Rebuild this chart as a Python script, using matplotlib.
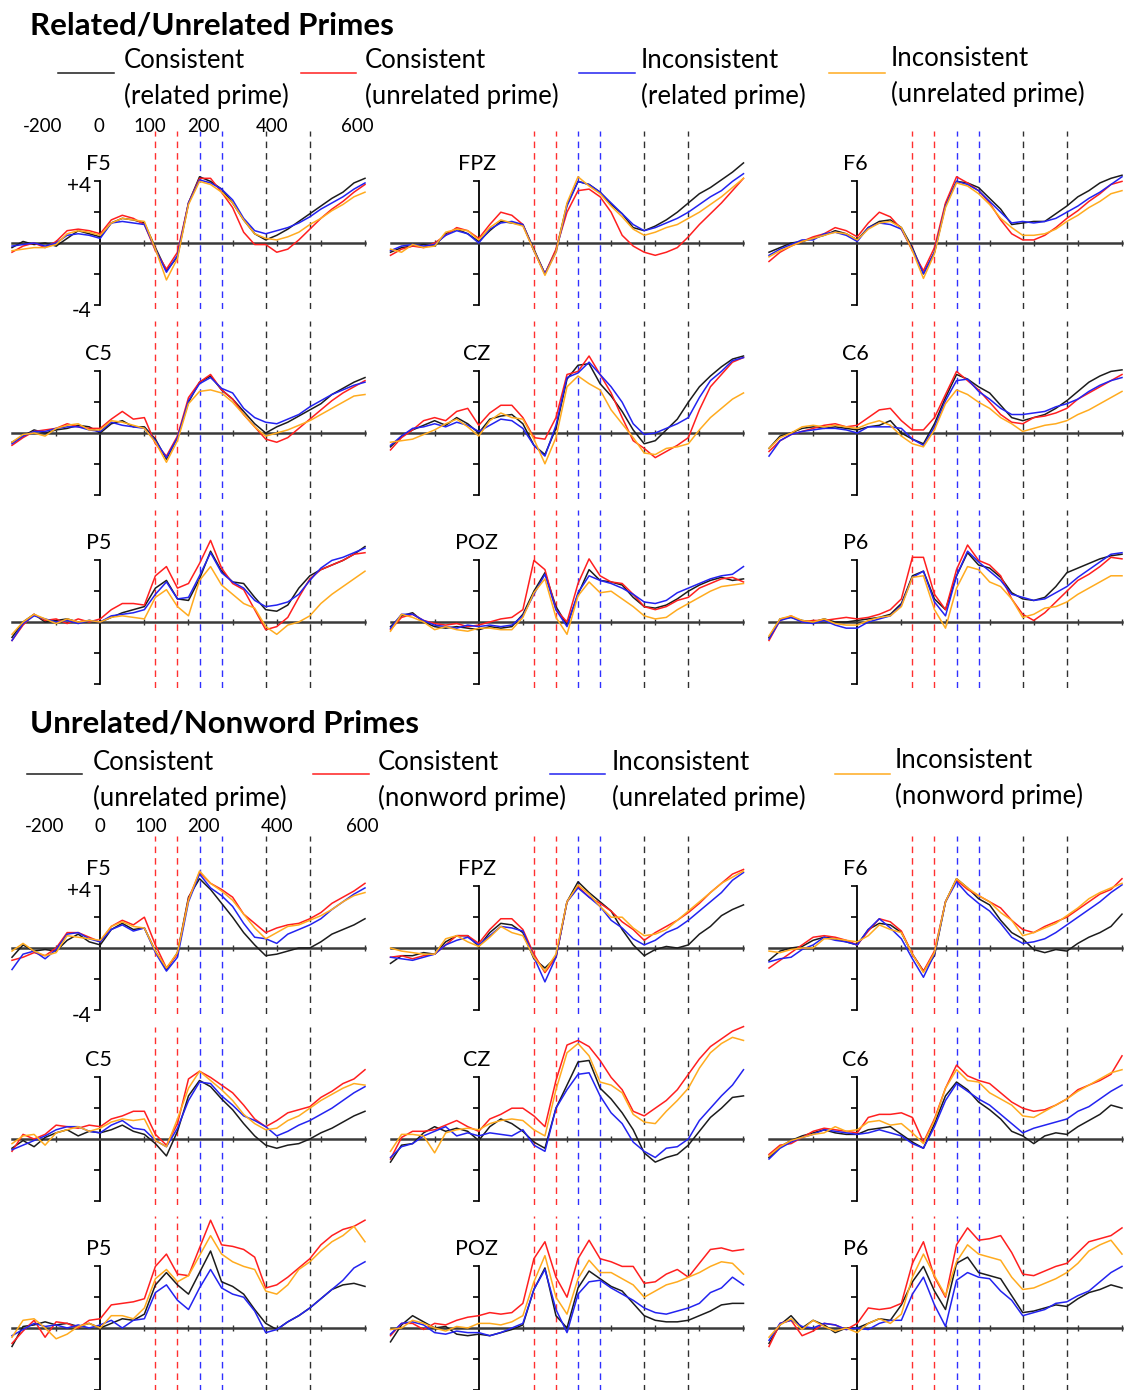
import matplotlib
matplotlib.use("Agg")
import matplotlib.pyplot as plt

plt.rcParams['font.family'] = ['Lato', 'DejaVu Sans']

# sample times (ms)
times = [-200, -175, -150, -125, -100, -75, -50, -25, 0, 25, 50, 75, 100, 125, 150, 175,
         200, 225, 250, 275, 300, 325, 350, 375, 400, 425, 450, 475, 500, 525, 550, 575, 600]

# analysis windows (ms)
red_windows = [125, 175]
blue_windows = [225, 275]
black_windows = [375, 475]

# ---- Related/Unrelated primes (k = con rel, r = con unrel, b = incon rel, o = incon unrel)
ru_f5_k = [-0.3, 0.1, -0.1, 0.0, -0.2, 0.3, 0.8, 0.6, 0.4, 1.3, 1.6, 1.5, 1.3, -0.3, -1.8, -0.9, 2.6, 4.3, 4.0, 3.5, 2.6, 1.5, 0.6, 0.2, 0.5, 0.9, 1.4, 1.9, 2.4, 2.9, 3.3, 3.9, 4.2]
ru_f5_r = [-0.6, -0.2, 0.0, -0.3, 0.1, 0.8, 0.9, 0.8, 0.6, 1.5, 1.8, 1.6, 1.2, -0.5, -1.7, -0.6, 2.6, 4.2, 4.2, 3.3, 2.3, 0.7, -0.1, -0.1, -0.6, -0.4, 0.2, 0.9, 1.6, 2.2, 2.7, 3.3, 3.8]
ru_f5_b = [-0.2, -0.1, 0.0, -0.2, 0.0, 0.5, 0.6, 0.5, 0.3, 1.3, 1.4, 1.3, 1.2, -0.4, -1.9, -0.8, 2.6, 4.1, 3.9, 3.5, 2.8, 1.6, 0.8, 0.6, 0.8, 1.0, 1.3, 1.7, 2.2, 2.6, 3.0, 3.5, 3.9]
ru_f5_o = [-0.5, -0.4, -0.3, -0.3, -0.1, 0.6, 0.8, 0.7, 0.5, 1.3, 1.6, 1.5, 1.4, -0.4, -2.4, -1.0, 2.5, 4.0, 3.8, 3.3, 2.6, 1.5, 0.6, 0.3, 0.2, 0.4, 0.7, 1.2, 1.6, 2.1, 2.5, 3.0, 3.3]

ru_fpz_k = [-0.6, -0.3, -0.2, -0.1, -0.2, 0.6, 0.9, 0.6, 0.1, 0.8, 1.4, 1.3, 1.2, -0.4, -2.0, -0.5, 2.5, 4.0, 3.8, 3.3, 2.5, 1.9, 1.0, 0.8, 1.1, 1.5, 2.0, 2.6, 3.2, 3.6, 4.1, 4.6, 5.2]
ru_fpz_r = [-0.8, -0.4, -0.2, -0.3, 0.0, 0.5, 1.0, 0.8, 0.3, 1.2, 2.0, 1.8, 1.2, -0.5, -2.0, -0.4, 2.0, 3.4, 3.5, 3.0, 2.0, 0.5, -0.2, -0.6, -0.8, -0.6, -0.3, 0.4, 1.2, 1.9, 2.6, 3.4, 4.2]
ru_fpz_b = [-0.5, -0.2, -0.1, -0.2, -0.1, 0.5, 0.8, 0.6, 0.0, 0.9, 1.3, 1.4, 1.2, -0.5, -2.0, -0.6, 2.4, 4.0, 3.8, 3.3, 2.6, 1.9, 1.2, 0.8, 1.0, 1.3, 1.6, 2.0, 2.5, 3.0, 3.4, 4.0, 4.5]
ru_fpz_o = [-0.4, -0.6, -0.1, -0.3, -0.2, 0.7, 0.9, 0.8, 0.2, 1.0, 1.5, 1.3, 1.1, -0.5, -2.1, -0.6, 2.6, 4.3, 3.7, 3.2, 2.4, 1.7, 0.9, 0.5, 0.7, 1.0, 1.2, 1.6, 2.0, 2.5, 3.0, 3.6, 4.2]

ru_f6_k = [-0.6, -0.3, 0.0, 0.1, 0.3, 0.5, 0.8, 0.6, 0.2, 1.0, 1.4, 1.5, 1.0, -0.3, -2.0, -0.6, 2.5, 4.0, 3.9, 3.6, 2.9, 2.2, 1.2, 1.3, 1.4, 1.4, 1.9, 2.4, 3.0, 3.4, 3.9, 4.2, 4.4]
ru_f6_r = [-1.2, -0.6, -0.2, 0.1, 0.4, 0.6, 1.0, 0.8, 0.4, 1.3, 2.0, 1.7, 0.9, -0.5, -1.8, -0.3, 2.6, 4.3, 3.9, 3.4, 2.6, 1.5, 0.6, 0.2, 0.2, 0.5, 1.0, 1.6, 2.1, 2.7, 3.2, 3.8, 4.0]
ru_f6_b = [-0.8, -0.4, -0.1, 0.2, 0.2, 0.6, 0.7, 0.5, 0.1, 1.0, 1.3, 1.2, 0.9, -0.4, -2.0, -0.6, 2.4, 4.0, 3.8, 3.4, 2.7, 2.0, 1.3, 1.4, 1.3, 1.4, 1.6, 2.0, 2.4, 2.9, 3.3, 3.8, 4.3]
ru_f6_o = [-0.9, -0.5, -0.2, 0.1, 0.3, 0.5, 0.7, 0.6, 0.2, 0.9, 1.3, 1.4, 1.0, -0.5, -2.3, -0.7, 2.3, 3.9, 3.7, 3.2, 2.5, 1.6, 1.0, 0.5, 0.5, 0.6, 0.9, 1.4, 1.8, 2.3, 2.7, 3.2, 3.4]

ru_c5_k = [-0.6, -0.2, 0.2, 0.0, 0.2, 0.3, 0.5, 0.4, 0.0, 0.6, 0.8, 0.4, 0.4, -0.4, -1.7, -0.3, 2.0, 3.3, 3.7, 2.8, 2.2, 1.4, 0.6, 0.0, 0.4, 0.7, 1.1, 1.5, 1.9, 2.5, 2.9, 3.3, 3.6]
ru_c5_r = [-0.8, -0.3, 0.1, 0.2, 0.3, 0.6, 0.4, 0.3, 0.3, 0.9, 1.4, 0.9, 1.0, -0.7, -1.5, -0.2, 2.3, 3.3, 3.8, 2.8, 2.2, 1.2, 0.4, -0.4, -0.6, -0.3, 0.3, 0.9, 1.5, 2.1, 2.6, 3.0, 3.4]
ru_c5_b = [-0.7, -0.2, 0.1, 0.1, 0.3, 0.4, 0.4, 0.2, 0.1, 0.7, 0.5, 0.4, 0.3, -0.5, -1.6, -0.3, 2.1, 3.2, 3.6, 2.9, 2.6, 1.6, 1.0, 0.7, 0.6, 0.9, 1.2, 1.7, 2.1, 2.5, 2.8, 3.1, 3.3]
ru_c5_o = [-0.6, -0.1, 0.0, -0.2, 0.3, 0.5, 0.6, 0.2, 0.2, 0.8, 0.7, 0.5, 0.3, -0.6, -1.9, -0.5, 1.9, 2.7, 2.8, 2.6, 2.0, 1.2, 0.4, -0.2, 0.0, 0.2, 0.5, 0.8, 1.2, 1.6, 2.0, 2.4, 2.5]

ru_cz_k = [-0.9, -0.2, 0.2, 0.5, 0.8, 0.5, 1.0, 0.6, 0.0, 0.9, 1.1, 1.2, 0.6, -0.8, -1.4, 0.3, 3.5, 4.4, 4.5, 3.2, 2.4, 1.4, 0.2, -0.7, -0.5, 0.2, 0.9, 2.0, 3.0, 3.7, 4.3, 4.8, 5.0]
ru_cz_r = [-1.1, -0.3, 0.2, 0.8, 1.0, 0.8, 1.4, 1.6, 0.5, 1.3, 1.8, 1.8, 1.0, -0.3, -0.4, 1.0, 3.8, 4.0, 5.0, 3.8, 2.6, 1.0, -0.5, -1.0, -1.6, -1.2, -0.8, -0.3, 1.5, 3.0, 3.8, 4.6, 4.9]
ru_cz_b = [-0.8, -0.2, 0.3, 0.4, 0.6, 0.4, 0.7, 0.5, 0.1, 0.5, 0.9, 0.8, 0.3, -0.8, -1.5, 0.5, 3.6, 3.9, 4.6, 3.8, 3.0, 2.0, 0.6, -0.1, 0.0, 0.3, 0.6, 1.0, 2.3, 3.4, 4.0, 4.7, 4.9]
ru_cz_o = [-0.6, -0.5, -0.4, -0.1, 0.2, 0.6, 0.9, 0.4, -0.2, 0.8, 1.3, 1.0, 0.9, -0.4, -2.0, -0.3, 3.0, 3.7, 3.2, 2.8, 1.5, 0.6, -0.3, -1.3, -1.4, -1.0, -0.9, -0.7, 0.2, 1.0, 1.6, 2.2, 2.6]

ru_c6_k = [-1.0, -0.2, 0.0, 0.3, 0.4, 0.3, 0.4, 0.3, 0.2, 0.4, 0.5, 0.8, 0.0, -0.4, -0.7, 0.6, 2.3, 3.8, 3.5, 3.0, 2.6, 1.8, 1.0, 0.8, 1.0, 1.2, 1.6, 2.1, 2.7, 3.3, 3.7, 4.0, 4.1]
ru_c6_r = [-1.2, -0.5, -0.1, 0.1, 0.3, 0.5, 0.6, 0.4, 0.5, 1.0, 1.5, 1.6, 0.8, 0.2, 0.2, 1.0, 2.5, 4.0, 3.4, 2.8, 2.0, 1.2, 0.7, 0.6, 1.0, 1.1, 1.3, 1.6, 2.2, 2.6, 3.0, 3.4, 3.8]
ru_c6_b = [-1.5, -0.5, -0.1, 0.1, 0.2, 0.3, 0.3, 0.2, 0.0, 0.4, 0.4, 0.4, 0.3, -0.4, -0.8, 0.4, 2.1, 3.4, 3.5, 2.7, 2.2, 1.6, 1.2, 1.2, 1.3, 1.4, 1.7, 1.9, 2.2, 2.7, 3.1, 3.4, 3.6]
ru_c6_o = [-1.0, -0.3, 0.0, 0.4, 0.5, 0.4, 0.5, 0.4, 0.3, 0.6, 0.8, 0.5, -0.2, -0.7, -0.9, 0.2, 1.9, 2.8, 2.5, 2.0, 1.6, 1.0, 0.6, 0.1, 0.3, 0.5, 0.6, 0.8, 1.2, 1.5, 1.9, 2.3, 2.7]

ru_p5_k = [-1.0, 0.0, 0.5, 0.0, 0.1, 0.2, 0.0, 0.1, 0.0, 0.3, 0.6, 0.8, 1.0, 2.2, 2.7, 1.5, 1.4, 2.8, 4.6, 3.3, 2.6, 2.5, 1.6, 0.8, 0.7, 1.1, 2.2, 3.0, 3.4, 3.7, 4.0, 4.4, 4.9]
ru_p5_r = [-1.2, -0.2, 0.5, 0.1, 0.2, -0.1, 0.2, 0.0, 0.2, 0.8, 1.2, 1.2, 1.1, 3.0, 3.6, 2.2, 2.5, 3.8, 5.3, 3.5, 2.5, 2.1, 0.8, -0.5, -0.3, 0.3, 1.6, 2.8, 3.4, 3.7, 4.0, 4.4, 4.5]
ru_p5_b = [-1.2, -0.1, 0.4, 0.2, 0.0, 0.1, -0.1, 0.1, 0.0, 0.4, 0.5, 0.6, 0.8, 1.8, 2.6, 1.5, 1.6, 3.0, 4.5, 3.2, 2.6, 2.2, 1.4, 1.0, 1.1, 1.3, 1.8, 2.7, 3.5, 4.0, 4.2, 4.5, 4.8]
ru_p5_o = [-0.8, 0.0, 0.5, 0.2, -0.1, 0.2, 0.0, 0.1, 0.0, 0.3, 0.4, 0.3, 0.2, 1.6, 2.1, 1.0, 0.4, 2.7, 3.6, 2.4, 1.8, 1.2, 0.9, -0.3, -0.8, -0.2, 0.0, 0.4, 1.2, 1.8, 2.3, 2.8, 3.3]

ru_poz_k = [-0.3, 0.4, 0.6, 0.0, -0.3, -0.4, -0.3, -0.4, -0.5, -0.3, -0.4, -0.3, 0.5, 2.0, 3.2, 1.0, -0.2, 1.8, 3.4, 2.7, 2.6, 2.4, 1.6, 1.0, 0.9, 1.1, 1.5, 2.0, 2.4, 2.7, 2.9, 2.7, 2.8]
ru_poz_r = [-0.5, 0.3, 0.5, 0.1, -0.1, -0.2, -0.1, -0.3, -0.2, 0.0, 0.2, 0.3, 0.8, 4.0, 3.4, 0.8, 0.0, 2.5, 4.1, 3.0, 2.6, 2.5, 1.8, 1.0, 0.8, 1.0, 1.4, 1.6, 2.2, 2.5, 2.8, 2.9, 2.6]
ru_poz_b = [-0.4, 0.5, 0.5, 0.1, -0.2, -0.3, -0.4, -0.2, -0.3, -0.2, -0.3, -0.2, 0.4, 1.8, 3.1, 0.8, -0.3, 1.9, 3.0, 2.7, 2.5, 2.2, 1.8, 1.3, 1.2, 1.4, 1.9, 2.2, 2.5, 2.8, 3.0, 3.1, 3.6]
ru_poz_o = [-0.6, 0.5, 0.3, 0.0, -0.5, -0.3, -0.5, -0.6, -0.4, -0.4, -0.5, -0.5, 0.3, 1.9, 2.8, 0.3, -0.8, 1.7, 2.6, 1.9, 2.0, 1.5, 1.0, 0.4, 0.2, 0.3, 0.8, 1.2, 1.6, 2.0, 2.3, 2.4, 2.5]

ru_p6_k = [-1.0, 0.2, 0.3, 0.1, 0.0, 0.2, 0.0, 0.0, 0.1, 0.2, 0.3, 0.5, 1.2, 3.0, 3.3, 1.5, 0.8, 3.0, 4.5, 3.7, 3.5, 2.9, 1.9, 1.5, 1.4, 1.6, 2.3, 3.2, 3.5, 3.8, 4.1, 4.3, 4.4]
ru_p6_r = [-1.2, 0.1, 0.4, 0.0, 0.1, 0.1, 0.2, 0.3, 0.2, 0.3, 0.5, 0.8, 1.5, 4.2, 4.2, 1.8, 0.8, 3.4, 5.0, 4.0, 3.7, 3.0, 1.5, 0.5, 0.1, 0.6, 1.3, 2.0, 2.7, 3.1, 3.6, 4.2, 4.1]
ru_p6_b = [-1.1, 0.1, 0.3, 0.0, -0.1, 0.1, -0.2, -0.4, -0.4, 0.0, 0.2, 0.4, 1.1, 2.9, 3.3, 1.3, 0.4, 3.0, 4.6, 3.9, 3.3, 2.7, 1.8, 1.6, 1.4, 1.5, 1.9, 2.3, 2.9, 3.4, 3.9, 4.4, 4.5]
ru_p6_o = [-0.9, 0.2, 0.4, 0.1, 0.0, 0.2, -0.1, -0.2, -0.2, 0.1, 0.3, 0.4, 1.0, 2.9, 3.0, 0.8, -0.4, 2.2, 3.6, 3.4, 2.6, 2.3, 1.5, 0.3, 0.5, 0.9, 1.0, 1.3, 1.8, 2.2, 2.6, 3.0, 3.0]

# ---- Unrelated/Nonword primes (k = con unrel, r = con nonword, b = incon unrel, o = incon nonword)
un_f5_k = [-0.6, 0.2, -0.2, -0.1, -0.2, 0.5, 0.9, 0.4, 0.2, 1.2, 1.6, 1.2, 1.3, -0.2, -1.4, -0.3, 3.3, 4.5, 3.8, 2.9, 2.0, 1.0, 0.2, -0.5, -0.4, -0.2, 0.0, 0.0, 0.4, 0.9, 1.2, 1.5, 1.9]
un_f5_r = [-0.8, -0.6, -0.3, -0.5, 0.0, 1.0, 1.0, 0.7, 0.4, 1.4, 1.8, 1.5, 2.0, 0.2, -1.3, -0.4, 3.2, 4.9, 4.2, 3.8, 3.3, 2.2, 1.6, 1.0, 1.3, 1.5, 1.6, 1.9, 2.3, 2.9, 3.3, 3.7, 4.2]
un_f5_b = [-1.4, -0.4, -0.2, -0.7, -0.1, 0.9, 1.0, 0.6, 0.4, 1.2, 1.5, 1.1, 1.3, -0.3, -1.5, -0.6, 3.0, 4.8, 3.9, 3.4, 2.7, 1.6, 0.7, 0.6, 0.3, 0.9, 1.2, 1.5, 1.9, 2.5, 3.0, 3.5, 3.9]
un_f5_o = [-0.2, 0.3, -0.2, -0.5, -0.3, 0.8, 0.7, 0.6, 0.5, 1.4, 1.7, 1.4, 1.3, -0.2, -1.3, -0.3, 3.1, 5.0, 4.2, 3.7, 3.1, 2.2, 1.3, 0.6, 1.0, 1.4, 1.5, 1.8, 2.1, 2.5, 3.0, 3.4, 3.6]

un_fpz_k = [-1.0, -0.5, -0.5, -0.3, -0.4, 0.4, 0.8, 0.8, 0.1, 1.0, 1.6, 1.5, 1.0, -0.7, -1.3, -0.6, 3.0, 4.3, 3.6, 3.0, 2.4, 1.2, 0.2, -0.5, -0.1, 0.1, 0.0, 0.2, 0.9, 1.4, 2.1, 2.5, 2.8]
un_fpz_r = [-0.6, -0.5, -0.7, -0.5, -0.4, 0.2, 0.8, 0.8, 0.3, 1.2, 1.9, 1.9, 1.2, -0.4, -1.6, -0.6, 3.0, 4.0, 3.3, 2.9, 2.4, 1.7, 1.2, 0.5, 1.0, 1.4, 1.8, 2.3, 2.9, 3.6, 4.2, 4.8, 5.1]
un_fpz_b = [-0.6, -0.7, -0.8, -0.6, -0.4, 0.2, 0.5, 0.7, 0.2, 0.8, 1.4, 1.3, 1.1, -0.6, -2.2, -0.6, 3.0, 3.9, 3.3, 2.7, 1.8, 1.3, 0.6, 0.2, 0.5, 1.0, 1.3, 1.8, 2.4, 3.0, 3.6, 4.4, 4.9]
un_fpz_o = [0.0, -0.2, -0.3, -0.4, -0.4, 0.6, 0.8, 0.4, 0.1, 0.7, 1.4, 1.0, 0.8, -0.6, -1.5, -0.4, 3.0, 4.1, 3.5, 2.7, 2.0, 2.0, 1.3, 0.8, 0.9, 1.2, 1.8, 2.4, 3.0, 3.6, 4.2, 4.6, 5.0]

un_f6_k = [-0.8, -0.2, 0.0, 0.1, 0.5, 0.7, 0.6, 0.4, 0.2, 1.2, 1.6, 1.5, 1.0, -0.4, -1.5, -0.5, 3.0, 4.5, 3.9, 3.2, 2.8, 1.8, 1.0, 0.6, -0.1, -0.3, -0.1, -0.2, 0.3, 0.7, 1.0, 1.4, 2.2]
un_f6_r = [-1.3, -0.8, -0.3, 0.2, 0.7, 0.8, 0.7, 0.5, 0.2, 1.1, 1.9, 1.7, 1.1, -0.4, -1.5, -0.2, 3.0, 4.4, 3.8, 3.4, 3.0, 2.6, 1.8, 1.2, 1.0, 1.4, 1.7, 2.0, 2.5, 3.0, 3.5, 3.8, 4.5]
un_f6_b = [-0.9, -0.7, -0.6, -0.1, 0.2, 0.7, 0.5, 0.4, 0.2, 1.2, 1.9, 1.3, 0.6, -0.7, -1.9, -0.4, 3.0, 4.3, 3.5, 2.9, 2.4, 1.6, 0.7, 0.3, 0.4, 0.6, 1.0, 1.5, 2.0, 2.5, 3.0, 3.6, 4.1]
un_f6_o = [-0.2, -0.3, -0.1, 0.0, 0.0, 0.6, 0.6, 0.5, 0.4, 0.8, 1.5, 1.2, 1.0, -0.4, -1.6, -0.3, 3.0, 4.5, 3.9, 3.4, 3.0, 2.3, 1.8, 0.8, 1.0, 1.3, 1.6, 2.1, 2.6, 3.2, 3.6, 3.9, 4.2]

un_c5_k = [-0.6, -0.1, -0.5, 0.1, 0.4, 0.6, 0.2, 0.5, 0.4, 0.6, 0.9, 0.5, 0.3, -0.3, -1.1, 0.5, 2.8, 3.8, 3.4, 2.6, 1.9, 1.0, 0.2, -0.4, -0.6, -0.4, -0.3, 0.0, 0.4, 0.7, 1.1, 1.5, 1.8]
un_c5_r = [-0.8, 0.3, 0.0, 0.3, 0.9, 0.8, 0.7, 0.9, 0.8, 1.3, 1.5, 1.8, 1.8, 0.3, -0.4, 1.0, 3.9, 4.4, 4.0, 3.5, 3.0, 2.2, 1.3, 0.8, 1.2, 1.7, 1.9, 2.1, 2.7, 3.1, 3.6, 3.9, 4.5]
un_c5_b = [-0.7, -0.4, -0.1, 0.2, 0.6, 0.8, 0.8, 0.5, 0.4, 0.9, 1.2, 0.7, 0.6, -0.1, -0.5, 0.7, 2.5, 3.7, 3.6, 2.8, 2.2, 1.5, 1.2, 0.8, 0.2, 0.5, 0.9, 1.2, 1.6, 2.0, 2.5, 3.0, 3.4]
un_c5_o = [-0.3, 0.2, 0.3, -0.4, 0.4, 0.6, 0.8, 0.5, 0.7, 1.1, 1.3, 1.2, 1.3, -0.1, -0.5, 1.3, 3.3, 4.4, 3.8, 3.2, 2.5, 1.6, 1.0, 0.6, 0.7, 1.2, 1.5, 2.0, 2.5, 2.9, 3.3, 3.6, 3.5]

un_cz_k = [-1.5, -0.4, -0.3, 0.4, 0.8, 0.5, 0.7, 0.5, -0.1, 0.8, 1.3, 1.0, 0.5, -0.2, -0.6, 2.0, 3.5, 5.0, 5.1, 3.3, 2.6, 1.7, 0.6, -0.9, -1.5, -1.2, -1.0, -0.4, 0.5, 1.4, 2.0, 2.7, 2.8]
un_cz_r = [-1.3, 0.1, 0.5, 0.5, 0.6, 0.9, 1.2, 0.8, 0.5, 1.3, 1.6, 2.0, 2.0, 1.5, 0.8, 3.8, 6.1, 6.4, 6.0, 5.1, 4.0, 3.2, 1.8, 1.5, 2.0, 2.5, 3.2, 4.2, 5.2, 6.0, 6.5, 7.0, 7.3]
un_cz_b = [-1.2, -0.5, -0.3, 0.2, 0.5, 0.8, 0.2, 0.4, 0.2, 0.4, 0.3, 0.2, 0.6, -0.4, -0.8, 2.0, 3.2, 4.2, 4.3, 2.8, 1.7, 1.0, -0.2, -0.8, -1.2, -0.6, -0.5, 0.0, 1.2, 2.0, 2.8, 3.5, 4.5]
un_cz_o = [-0.8, 0.3, 0.3, 0.2, -0.9, 0.4, 0.6, 0.7, 0.6, 1.0, 1.2, 1.3, 1.2, 0.6, 0.2, 3.2, 5.6, 6.2, 5.4, 3.7, 3.5, 3.0, 1.6, 1.1, 1.0, 1.8, 2.5, 3.3, 4.6, 5.6, 6.2, 6.6, 6.4]

un_c6_k = [-1.2, -0.5, -0.1, 0.2, 0.4, 0.6, 0.4, 0.3, 0.3, 0.6, 0.7, 0.8, 0.3, -0.2, -0.6, 1.0, 2.8, 3.7, 3.2, 2.4, 1.9, 1.3, 0.5, 0.2, -0.3, 0.2, 0.4, 0.3, 0.8, 1.2, 1.6, 2.2, 2.0]
un_c6_r = [-1.0, -0.4, -0.3, 0.1, 0.5, 0.7, 0.6, 0.5, 0.4, 1.4, 1.6, 1.6, 1.7, 1.4, -0.2, 1.3, 3.3, 4.8, 4.1, 3.8, 3.6, 3.0, 2.4, 2.0, 1.8, 1.9, 2.2, 2.6, 3.2, 3.5, 3.8, 4.2, 5.4]
un_c6_b = [-1.3, -0.6, -0.2, 0.1, 0.3, 0.6, 0.5, 0.4, 0.3, 0.4, 0.6, 0.4, 0.2, -0.3, -0.6, 0.8, 2.5, 3.6, 3.1, 2.6, 2.2, 1.6, 1.0, 0.4, 0.7, 0.9, 1.1, 1.3, 1.8, 2.1, 2.6, 3.1, 3.5]
un_c6_o = [-1.1, -0.5, -0.1, 0.1, 0.3, 0.4, 0.8, 0.5, 0.6, 1.1, 1.2, 0.9, 1.0, 0.4, -0.3, 1.2, 3.3, 4.5, 3.8, 3.7, 3.0, 2.6, 2.2, 1.5, 1.4, 1.8, 2.2, 2.6, 3.1, 3.5, 3.9, 4.3, 4.5]

un_p5_k = [-1.2, 0.1, 0.2, 0.4, 0.2, 0.3, 0.1, 0.3, 0.0, 0.3, 0.6, 0.5, 0.9, 2.8, 3.6, 2.8, 2.2, 3.6, 5.0, 3.0, 2.7, 2.2, 1.2, 0.3, -0.1, 0.4, 0.8, 1.3, 1.9, 2.5, 2.8, 2.9, 2.7]
un_p5_r = [-1.0, -0.2, 0.5, -0.6, 0.4, 0.3, 0.0, 0.5, 0.6, 1.5, 1.6, 1.7, 1.9, 4.0, 4.8, 3.5, 3.4, 5.2, 7.0, 5.4, 5.3, 5.1, 4.6, 2.6, 2.8, 3.3, 3.9, 4.5, 5.4, 6.0, 6.4, 6.6, 7.0]
un_p5_b = [-0.5, -0.1, 0.3, 0.1, 0.2, 0.0, 0.2, 0.0, 0.2, 0.5, 0.0, 0.5, 0.6, 2.3, 2.8, 1.8, 1.2, 2.6, 3.8, 2.6, 2.2, 2.0, 1.1, -0.3, -0.1, 0.4, 0.8, 1.3, 1.9, 2.5, 3.1, 3.9, 4.3]
un_p5_o = [-0.6, 0.5, 0.6, 0.0, -0.7, -0.4, 0.1, 0.3, 0.0, 0.8, 0.8, 0.6, 1.3, 3.2, 3.8, 3.0, 3.4, 4.7, 6.0, 4.8, 4.3, 4.0, 3.8, 2.4, 2.2, 2.8, 3.8, 4.3, 5.0, 5.6, 6.0, 6.6, 5.6]

un_poz_k = [-0.9, 0.2, 0.8, 0.4, 0.0, 0.1, -0.4, -0.5, -0.4, -0.5, -0.3, -0.1, 0.2, 2.5, 3.9, 0.8, 0.0, 2.6, 3.7, 3.2, 2.7, 2.4, 1.6, 0.8, 0.5, 0.4, 0.4, 0.5, 0.8, 1.1, 1.5, 1.6, 1.6]
un_poz_r = [-0.5, 0.3, 0.3, -0.1, 0.3, 0.2, 0.5, 0.7, 0.8, 1.0, 0.9, 1.0, 1.6, 4.5, 5.6, 3.3, 2.0, 4.5, 5.7, 4.5, 4.3, 4.0, 4.0, 2.9, 3.0, 3.5, 3.8, 3.3, 4.2, 5.1, 5.2, 5.0, 5.1]
un_poz_b = [-0.4, 0.3, 0.4, 0.2, -0.3, -0.4, -0.2, -0.3, -0.3, -0.5, -0.3, 0.0, 0.3, 2.5, 3.8, 1.2, -0.3, 2.2, 3.0, 3.1, 2.6, 2.2, 1.8, 1.3, 1.0, 0.9, 1.1, 1.3, 1.6, 2.3, 2.6, 3.3, 2.8]
un_poz_o = [-0.1, 0.0, 0.5, 0.3, 0.0, -0.2, 0.1, 0.0, 0.3, 0.3, 0.2, 0.4, 0.8, 3.0, 4.7, 2.0, 0.9, 3.2, 4.4, 3.6, 3.6, 3.2, 2.8, 2.0, 2.4, 2.8, 3.0, 3.3, 3.6, 4.0, 4.3, 4.2, 3.5]

un_p6_k = [-1.0, 0.2, 0.8, 0.0, 0.5, 0.2, -0.3, 0.0, 0.0, 0.3, 0.6, 0.5, 1.5, 3.0, 4.0, 2.4, 1.2, 4.2, 4.6, 3.6, 3.4, 3.2, 2.1, 1.0, 1.1, 1.3, 1.5, 1.4, 1.9, 2.3, 2.5, 2.8, 2.6]
un_p6_r = [-1.2, 0.3, 0.5, -0.5, -0.2, 0.3, 0.2, -0.1, 0.3, 1.3, 1.2, 1.3, 1.6, 4.2, 5.6, 3.3, 2.0, 5.4, 6.5, 5.7, 5.8, 6.0, 4.9, 3.5, 3.4, 3.7, 4.0, 4.2, 4.9, 5.6, 5.8, 6.0, 6.5]
un_p6_b = [-0.8, 0.3, 0.5, 0.1, 0.0, 0.3, 0.2, -0.1, 0.0, -0.1, 0.3, 0.5, 0.5, 2.2, 3.3, 1.5, 0.1, 3.1, 3.6, 3.3, 3.2, 2.4, 1.8, 0.8, 1.0, 1.2, 1.6, 1.7, 2.1, 2.4, 3.0, 3.6, 4.0]
un_p6_o = [-0.6, 0.2, 0.6, -0.1, 0.5, 0.1, -0.2, 0.0, -0.3, 0.3, 0.6, 0.3, 0.9, 3.3, 4.8, 3.4, 2.1, 4.3, 5.4, 4.8, 4.6, 4.4, 3.3, 2.5, 2.6, 2.9, 3.2, 3.6, 4.2, 5.0, 5.4, 5.7, 4.8]

ru_labels = [["Consistent", "(related prime)"], ["Consistent", "(unrelated prime)"],
             ["Inconsistent", "(related prime)"], ["Inconsistent", "(unrelated prime)"]]
un_labels = [["Consistent", "(unrelated prime)"], ["Consistent", "(nonword prime)"],
             ["Inconsistent", "(unrelated prime)"], ["Inconsistent", "(nonword prime)"]]
time_ticks = ["-200", "0", "100", "200", "400", "600"]

COLORS = ['#1c1c1c', '#ff1f1f', '#2323f0', '#ffab1f']

W, H = 1130, 1390
PX_UV = 15.4
Y_TOP, Y_BOT = 7.3, -4.3

fig = plt.figure(figsize=(W / 100, H / 100), dpi=100)


def ftext(x, y, s, **kw):
    fig.text(x / W, 1 - y / H, s, **kw)


def add_panel(col, base, name, series, scale_labels=False):
    left = 12 + 378.5 * col
    width = 353
    top = base - Y_TOP * PX_UV
    height = (Y_TOP - Y_BOT) * PX_UV
    ax = fig.add_axes([left / W, 1 - (top + height) / H, width / W, height / H])
    ax.set_xlim(-200, 600)
    ax.set_ylim(Y_BOT, Y_TOP)
    ax.patch.set_alpha(0)

    for t in red_windows:
        ax.axvline(t, color='#ff3030', lw=1.0, dashes=(4.7, 3.6), zorder=1)
    for t in blue_windows:
        ax.axvline(t, color='#3030ff', lw=1.0, dashes=(4.7, 3.6), zorder=1)
    for t in black_windows:
        ax.axvline(t, color='#303030', lw=1.0, dashes=(4.7, 3.6), zorder=1)

    for vals, c in zip(series, COLORS):
        ax.plot(times, vals, color=c, lw=1.1, zorder=3, clip_on=False)

    for s in ['top', 'right']:
        ax.spines[s].set_visible(False)
    ax.spines['left'].set_position(('data', 0))
    ax.spines['left'].set_bounds(-4, 4)
    ax.spines['left'].set_linewidth(1.3)
    ax.spines['left'].set_zorder(2)
    ax.spines['bottom'].set_position(('data', 0))
    ax.spines['bottom'].set_color('#3a3a3a')
    ax.spines['bottom'].set_linewidth(1.8)
    ax.spines['bottom'].set_zorder(2)
    ax.set_xticks([-100, 100, 200, 300, 400, 500, 600])
    ax.set_yticks([-4, -2, 2, 4])
    ax.tick_params(axis='x', direction='inout', length=5, width=1, colors='#333333',
                   labelbottom=False)
    ax.tick_params(axis='y', direction='out', length=4, width=1.2, labelleft=False)

    axis_x = left + 200 * width / 800
    ftext(axis_x - 2, base - 79, name, ha='center', va='center', fontsize=15.5)
    if scale_labels:
        ftext(axis_x - 9, base - 57, "+4", ha='right', va='center', fontsize=15)
        ftext(axis_x - 9, base + 68, "-4", ha='right', va='center', fontsize=15)


def add_section(title, title_y, labels, leg_y, line_y, line_x, text_x,
                tick_y, tick_x, bases, panels):
    ftext(30, title_y, title, ha='left', va='center', fontsize=22.5, fontweight='bold')
    for i in range(4):
        dy = -2 if i == 3 else 0
        ftext(text_x[i], leg_y[0] + dy, labels[i][0], ha='left', va='center', fontsize=18.5)
        ftext(text_x[i], leg_y[1] + dy, labels[i][1], ha='left', va='center', fontsize=18.5)
        fig.add_artist(plt.Line2D([line_x[i][0] / W, line_x[i][1] / W],
                                  [1 - line_y / H, 1 - line_y / H],
                                  color=COLORS[i], lw=1.1))
    for lab, x in zip(time_ticks, tick_x):
        ftext(x, tick_y, lab, ha='center', va='center', fontsize=13.5)
    for idx, (name, s) in enumerate(panels):
        row, col = divmod(idx, 3)
        add_panel(col, bases[row], name, s, scale_labels=(idx == 0))


ru_panels = [
    ("F5", [ru_f5_k, ru_f5_r, ru_f5_b, ru_f5_o]),
    ("FPZ", [ru_fpz_k, ru_fpz_r, ru_fpz_b, ru_fpz_o]),
    ("F6", [ru_f6_k, ru_f6_r, ru_f6_b, ru_f6_o]),
    ("C5", [ru_c5_k, ru_c5_r, ru_c5_b, ru_c5_o]),
    ("CZ", [ru_cz_k, ru_cz_r, ru_cz_b, ru_cz_o]),
    ("C6", [ru_c6_k, ru_c6_r, ru_c6_b, ru_c6_o]),
    ("P5", [ru_p5_k, ru_p5_r, ru_p5_b, ru_p5_o]),
    ("POZ", [ru_poz_k, ru_poz_r, ru_poz_b, ru_poz_o]),
    ("P6", [ru_p6_k, ru_p6_r, ru_p6_b, ru_p6_o]),
]
un_panels = [
    ("F5", [un_f5_k, un_f5_r, un_f5_b, un_f5_o]),
    ("FPZ", [un_fpz_k, un_fpz_r, un_fpz_b, un_fpz_o]),
    ("F6", [un_f6_k, un_f6_r, un_f6_b, un_f6_o]),
    ("C5", [un_c5_k, un_c5_r, un_c5_b, un_c5_o]),
    ("CZ", [un_cz_k, un_cz_r, un_cz_b, un_cz_o]),
    ("C6", [un_c6_k, un_c6_r, un_c6_b, un_c6_o]),
    ("P5", [un_p5_k, un_p5_r, un_p5_b, un_p5_o]),
    ("POZ", [un_poz_k, un_poz_r, un_poz_b, un_poz_o]),
    ("P6", [un_p6_k, un_p6_r, un_p6_b, un_p6_o]),
]

add_section("Related/Unrelated Primes", 25, ru_labels, (61, 96), 73,
            [(58, 114), (301, 356), (579, 635), (829, 885)],
            [124, 365, 641, 891],
            126, [43, 99, 150, 203, 272, 357],
            [243, 433, 622], ru_panels)
add_section("Unrelated/Nonword Primes", 723, un_labels, (763, 798), 774,
            [(27, 82), (313, 369), (550, 605), (835, 890)],
            [93, 378, 612, 895],
            826, [45, 100, 151, 203, 277, 362],
            [948, 1139, 1328], un_panels)

fig.savefig("out.png", dpi=100, facecolor='white')
